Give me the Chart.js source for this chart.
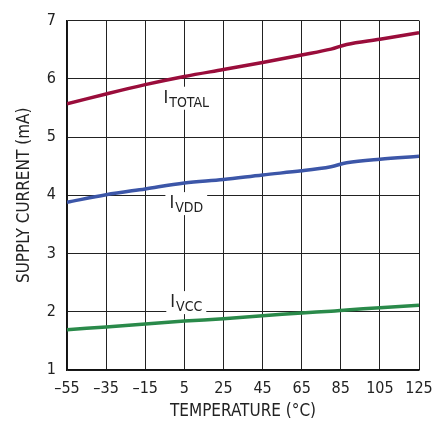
<!DOCTYPE html>
<html>
<head>
<meta charset="utf-8">
<script src="https://cdn.jsdelivr.net/npm/chart.js@4.4.1/dist/chart.umd.min.js"></script>
<style>
  html, body { margin: 0; padding: 0; background: #fff; }
  #wrap { width: 447px; height: 423px; }
</style>
</head>
<body>
<div id="wrap"><canvas id="chart" width="447" height="423"></canvas></div>
<script>
// Supply current vs temperature

const temps = [-55, -35, -15, 5, 25, 45, 65, 80, 88, 105, 125];
const iTotal = [5.57, 5.74, 5.90, 6.04, 6.16, 6.28, 6.41, 6.51, 6.59, 6.68, 6.79];
const iVdd = [3.88, 4.01, 4.11, 4.21, 4.27, 4.35, 4.42, 4.49, 4.56, 4.62, 4.67];
const iVcc = [1.69, 1.74, 1.79, 1.84, 1.88, 1.93, 1.98, 2.01, 2.03, 2.07, 2.11];
const xTicks = [-55, -35, -15, 5, 25, 45, 65, 85, 105, 125];
const yTicks = [1, 2, 3, 4, 5, 6, 7];

const FONT = "'DejaVu Sans Condensed', 'Liberation Sans', sans-serif";

// curve labels: main letter + subscript, placed in data units
const curveLabels = [
    { main: 'I', sub: 'TOTAL', x: 6, y: 5.59 },
    { main: 'I', sub: 'VDD', x: 6, y: 3.78 },
    { main: 'I', sub: 'VCC', x: 6, y: 2.08 }
];

const labelPlugin = {
    id: 'curveLabels',
    afterDatasetsDraw(chart) {
        const ctx = chart.ctx;
        const xs = chart.scales.x;
        const ys = chart.scales.y;
        ctx.save();
        curveLabels.forEach(l => {
            ctx.font = '18px ' + FONT;
            const wMain = ctx.measureText(l.main).width;
            ctx.font = '14px ' + FONT;
            const wSub = ctx.measureText(l.sub).width;
            const w = wMain + 1 + wSub;
            const cx = xs.getPixelForValue(l.x);
            const by = ys.getPixelForValue(l.y);
            const left = cx - w / 2;
            ctx.fillStyle = '#fff';
            ctx.fillRect(left - 4, by - 16, w + 8, 23);
            ctx.fillStyle = '#222';
            ctx.textBaseline = 'alphabetic';
            ctx.textAlign = 'left';
            ctx.font = '18px ' + FONT;
            ctx.fillText(l.main, left, by);
            ctx.font = '14px ' + FONT;
            ctx.fillText(l.sub, left + wMain + 1, by + 4);
        });
        ctx.restore();
    }
};

function series(vals) {
    return temps.map((t, i) => ({ x: t, y: vals[i] }));
}

new Chart(document.getElementById('chart'), {
    type: 'line',
    data: {
        datasets: [
            { label: 'ITOTAL', data: series(iTotal), borderColor: '#9a0d3b' },
            { label: 'IVDD', data: series(iVdd), borderColor: '#3c56a8' },
            { label: 'IVCC', data: series(iVcc), borderColor: '#2a8a4a' }
        ]
    },
    options: {
        responsive: false,
        animation: false,
        layout: { padding: { top: 18, right: 28, left: 0, bottom: 0 } },
        elements: {
            line: { borderWidth: 3.5, tension: 0.35 },
            point: { radius: 0 }
        },
        plugins: {
            legend: { display: false },
            tooltip: { enabled: false }
        },
        scales: {
            x: {
                type: 'linear',
                min: -55,
                max: 125,
                afterBuildTicks: s => { s.ticks = xTicks.map(v => ({ value: v })); },
                afterFit: s => { s.height = 53; },
                ticks: {
                    color: '#222',
                    font: { family: FONT, size: 16 },
                    padding: 9,
                    maxRotation: 0,
                    callback: v => String(v).replace('-', '\u2013')
                },
                grid: { color: '#222', lineWidth: 1, drawTicks: false },
                border: { color: '#111', width: 1.5 },
                title: {
                    display: true,
                    text: 'TEMPERATURE (\u00b0C)',
                    color: '#222',
                    font: { family: FONT, size: 17 },
                    padding: { top: 0, bottom: 1 }
                }
            },
            y: {
                min: 1,
                max: 7,
                afterBuildTicks: s => { s.ticks = yTicks.map(v => ({ value: v })); },
                afterFit: s => { s.width = 67; },
                ticks: {
                    color: '#222',
                    font: { family: FONT, size: 16 },
                    padding: 11
                },
                grid: { color: '#222', lineWidth: 1, drawTicks: false },
                border: { color: '#111', width: 1.5 },
                title: {
                    display: true,
                    text: 'SUPPLY CURRENT (mA)',
                    color: '#222',
                    font: { family: FONT, size: 17 },
                    padding: { top: 14, bottom: 0 }
                }
            }
        }
    },
    plugins: [labelPlugin]
});
</script>
</body>
</html>
